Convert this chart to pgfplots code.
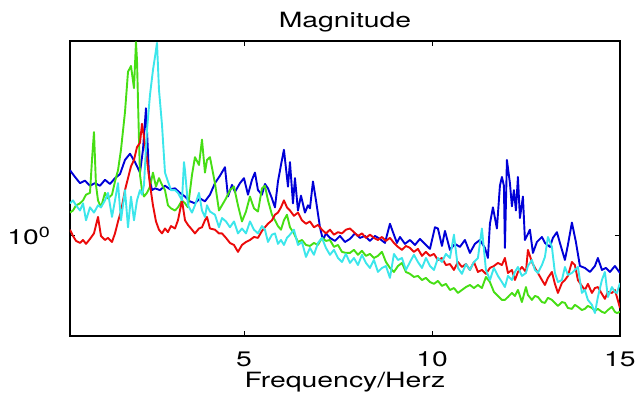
\documentclass[border=0pt]{standalone}
\usepackage{fontspec}
\setmainfont{TeX Gyre Heros}[FakeStretch=1.35]
\usepackage{pgfplots}
\pgfplotsset{compat=1.18}
\definecolor{mblue}{RGB}{0,0,215}
\definecolor{mred}{RGB}{235,10,10}
\definecolor{mgreen}{RGB}{70,222,20}
\definecolor{mcyan}{RGB}{60,230,235}
\begin{document}
\begin{tikzpicture}
\begin{axis}[
 scale only axis, width=275pt, height=147.5pt,
 xmin=0.37, xmax=15, ymode=log, ymin=0.458, ymax=4.58,
 xtick={5,10,15}, xticklabels={5,10,15},
 ytick={1}, yticklabels={10\textsuperscript{0}},
 minor tick num=0, yminorticks=false, xminorticks=false,
 tick align=inside, major tick length=2.5pt,
 axis line style={black, line width=0.6pt},
 every tick/.style={black, line width=0.5pt},
 font=\fontsize{10.5}{12}\selectfont,
 title={Magnitude}, title style={at={(0.5,1)}, anchor=base, yshift=0.5pt},
 xlabel={Frequency/Herz}, xlabel style={at={(0.5,0)}, anchor=base, yshift=-26pt},
 xticklabel style={yshift=-4.5pt},
 yticklabel style={xshift=-6pt},
 every axis plot/.append style={line width=0.95pt, line join=round},
]
% blue
\addplot[mblue] table {
0.370 1.67
0.503 1.585
0.636 1.51
0.769 1.54
0.902 1.48
1.035 1.51
1.168 1.48
1.301 1.55
1.434 1.50
1.567 1.57
1.700 1.62
1.833 1.81
1.966 1.90
2.099 1.78
2.232 1.64
2.311 1.96
2.391 2.71
2.471 1.61
2.551 1.43
2.631 1.45
2.764 1.43
2.897 1.48
3.030 1.44
3.163 1.45
3.296 1.40
3.429 1.36
3.562 1.31
3.694 1.29
3.827 1.34
3.960 1.31
4.093 1.38
4.226 1.51
4.359 1.60
4.492 1.71
4.572 1.36
4.679 1.49
4.758 1.41
4.891 1.51
4.998 1.57
5.104 1.38
5.211 1.55
5.290 1.64
5.370 1.43
5.476 1.38
5.556 1.50
5.636 1.45
5.742 1.34
5.822 1.25
5.902 1.53
5.982 1.74
6.061 1.96
6.168 1.47
6.221 1.78
6.301 1.29
6.354 1.57
6.434 1.22
6.514 1.37
6.620 1.20
6.700 1.27
6.753 1.24
6.833 1.53
6.913 1.32
7.019 1.07
7.099 0.969
7.179 1.02
7.285 0.985
7.418 0.962
7.551 1.00
7.684 0.954
7.817 0.977
7.950 1.02
8.083 0.985
8.216 1.00
8.349 0.962
8.482 1.00
8.615 0.977
8.748 0.947
8.881 1.10
8.961 1.03
9.067 0.947
9.147 0.992
9.280 0.940
9.413 0.969
9.546 0.932
9.679 0.977
9.812 0.940
9.945 0.904
10.078 1.07
10.157 1.06
10.264 0.925
10.344 1.04
10.477 0.897
10.609 0.940
10.742 0.918
10.875 0.969
11.008 0.876
11.141 0.940
11.274 0.969
11.407 0.911
11.487 0.842
11.540 1.10
11.620 1.25
11.726 1.06
11.806 1.48
11.859 1.585
11.912 1.48
11.939 0.911
11.992 1.81
12.072 1.51
12.125 1.26
12.178 1.43
12.232 1.22
12.285 1.585
12.338 1.15
12.418 1.36
12.471 0.969
12.604 1.05
12.684 0.876
12.790 0.954
12.923 0.992
13.003 0.947
13.136 0.918
13.216 0.985
13.322 1.03
13.402 0.947
13.535 0.829
13.614 0.932
13.721 1.11
13.827 0.954
13.934 0.791
14.067 0.779
14.200 0.755
14.333 0.791
14.412 0.842
14.519 0.767
14.626 0.779
14.732 0.755
14.865 0.791
15.0 0.749
};
% green
\addplot[mgreen] table {
0.370 1.20
0.450 1.22
0.530 1.27
0.636 1.29
0.716 1.32
0.796 1.38
0.902 1.40
0.955 1.81
1.008 2.25
1.061 1.49
1.115 1.32
1.194 1.25
1.301 1.40
1.381 1.34
1.487 1.38
1.567 1.53
1.647 1.67
1.726 1.96
1.833 2.63
1.913 3.60
1.992 3.77
2.072 3.17
2.125 4.54
2.152 3.95
2.205 2.12
2.232 1.61
2.285 1.43
2.338 1.36
2.418 1.40
2.498 1.47
2.577 1.64
2.657 1.47
2.737 1.57
2.817 1.49
2.897 1.43
2.976 1.27
3.056 1.24
3.163 1.22
3.242 1.25
3.349 1.32
3.429 1.29
3.508 1.25
3.615 1.61
3.694 1.85
3.801 1.74
3.881 2.12
3.960 1.64
4.014 1.81
4.093 1.85
4.226 1.51
4.333 1.22
4.413 1.27
4.519 1.34
4.625 1.43
4.732 1.47
4.838 1.27
4.945 1.12
5.051 1.21
5.157 1.36
5.264 1.24
5.370 1.21
5.476 1.45
5.556 1.48
5.636 1.32
5.742 1.18
5.822 1.13
5.902 1.08
5.982 1.05
6.061 1.13
6.141 1.18
6.221 1.07
6.327 1.02
6.434 0.954
6.540 0.969
6.647 0.932
6.753 0.925
6.859 0.947
6.966 0.932
7.072 0.985
7.179 0.962
7.285 0.969
7.391 0.918
7.498 0.932
7.604 0.883
7.710 0.876
7.817 0.876
7.923 0.897
8.030 0.863
8.136 0.890
8.242 0.856
8.349 0.869
8.455 0.842
8.561 0.856
8.668 0.883
8.774 0.816
8.881 0.779
8.987 0.755
9.094 0.791
9.200 0.810
9.306 0.755
9.413 0.744
9.519 0.726
9.625 0.732
9.732 0.709
9.838 0.721
9.945 0.698
10.051 0.688
10.157 0.704
10.264 0.677
10.370 0.688
10.477 0.656
10.583 0.666
10.689 0.641
10.796 0.656
10.902 0.671
11.008 0.682
11.115 0.666
11.221 0.682
11.327 0.666
11.434 0.726
11.540 0.698
11.646 0.646
11.753 0.626
11.859 0.607
11.939 0.607
12.019 0.621
12.125 0.641
12.205 0.626
12.285 0.656
12.391 0.597
12.498 0.671
12.551 0.631
12.657 0.607
12.737 0.626
12.817 0.621
12.923 0.597
13.003 0.593
13.083 0.617
13.189 0.607
13.269 0.593
13.349 0.579
13.455 0.597
13.535 0.593
13.614 0.570
13.721 0.566
13.800 0.584
13.880 0.575
13.986 0.561
14.066 0.566
14.146 0.579
14.253 0.570
14.333 0.557
14.412 0.566
14.519 0.553
14.598 0.548
14.678 0.561
14.785 0.575
14.864 0.553
14.918 0.548
15.0 0.553
};
% red
\addplot[mred] table {
0.370 1.05
0.450 1.00
0.530 0.962
0.636 0.947
0.716 0.969
0.796 0.940
0.902 0.977
1.008 1.02
1.115 1.16
1.194 1.00
1.301 0.969
1.381 0.985
1.487 0.954
1.567 1.02
1.647 1.12
1.726 1.21
1.833 1.43
1.913 1.57
1.992 1.72
2.072 1.81
2.152 2.00
2.232 2.07
2.285 2.40
2.338 2.17
2.418 1.81
2.498 1.49
2.577 1.27
2.657 1.12
2.737 1.05
2.817 1.02
2.897 1.06
2.976 1.03
3.056 1.08
3.163 1.06
3.242 1.13
3.349 1.32
3.429 1.13
3.508 1.09
3.615 1.05
3.694 1.02
3.801 1.06
3.881 1.07
3.960 1.13
4.014 1.16
4.093 1.06
4.226 1.05
4.333 1.02
4.413 1.02
4.519 0.985
4.625 0.947
4.732 0.932
4.838 0.883
4.945 0.932
5.051 0.954
5.157 0.969
5.264 0.992
5.370 0.985
5.476 1.04
5.556 1.07
5.636 1.10
5.742 1.13
5.822 1.18
5.902 1.20
5.982 1.25
6.061 1.32
6.141 1.25
6.221 1.22
6.327 1.17
6.434 1.20
6.540 1.13
6.647 1.10
6.753 1.12
6.859 1.07
6.966 1.09
7.072 1.05
7.179 1.02
7.285 1.05
7.391 1.01
7.498 1.03
7.604 1.02
7.710 1.05
7.817 1.06
7.923 1.03
8.030 1.00
8.136 1.02
8.242 0.985
8.349 1.01
8.455 0.985
8.561 0.969
8.668 0.992
8.774 0.962
8.881 0.985
8.987 0.947
9.094 0.918
9.200 0.897
9.306 0.925
9.413 0.911
9.519 0.883
9.625 0.904
9.732 0.856
9.838 0.883
9.945 0.856
10.051 0.869
10.157 0.829
10.264 0.842
10.370 0.797
10.477 0.803
10.583 0.767
10.689 0.816
10.796 0.785
10.902 0.803
11.008 0.767
11.115 0.816
11.221 0.755
11.327 0.767
11.434 0.744
11.540 0.779
11.646 0.791
11.753 0.810
11.859 0.797
11.939 0.842
12.019 0.749
12.125 0.767
12.205 0.709
12.285 0.755
12.391 0.785
12.498 0.755
12.551 0.897
12.657 0.816
12.737 0.779
12.817 0.749
12.923 0.709
13.003 0.682
13.083 0.721
13.189 0.755
13.269 0.688
13.349 0.641
13.455 0.693
13.535 0.709
13.614 0.732
13.721 0.816
13.800 0.797
13.880 0.709
13.986 0.677
14.066 0.656
14.146 0.688
14.253 0.641
14.333 0.666
14.412 0.671
14.519 0.636
14.598 0.612
14.678 0.646
14.785 0.641
14.864 0.656
14.918 0.621
15.0 0.570
};
% cyan
\addplot[mcyan] table {
0.370 1.29
0.450 1.32
0.530 1.27
0.636 1.22
0.716 1.29
0.796 1.13
0.902 1.25
1.008 1.20
1.115 1.27
1.194 1.25
1.301 1.32
1.381 1.40
1.487 1.16
1.567 1.32
1.647 1.51
1.726 1.13
1.833 1.43
1.913 1.07
1.992 1.36
2.072 1.13
2.152 1.32
2.232 1.43
2.285 1.38
2.338 1.49
2.418 2.29
2.498 3.01
2.577 3.65
2.631 4.05
2.684 4.51
2.737 3.13
2.817 2.38
2.897 1.64
2.976 1.53
3.056 1.43
3.163 1.43
3.242 1.40
3.349 1.32
3.402 1.78
3.429 1.67
3.508 1.27
3.615 1.20
3.694 1.27
3.801 1.40
3.881 1.22
3.960 1.16
4.014 1.27
4.093 1.21
4.226 1.18
4.333 1.07
4.413 1.15
4.519 1.12
4.625 1.07
4.732 1.12
4.838 1.02
4.945 1.06
5.051 1.02
5.157 1.12
5.264 1.05
5.370 1.02
5.476 1.08
5.556 1.05
5.636 0.954
5.742 1.01
5.822 1.02
5.902 0.940
5.982 0.969
6.061 0.932
6.141 0.985
6.221 1.01
6.327 1.05
6.434 0.932
6.540 0.954
6.647 0.849
6.753 0.911
6.859 0.863
6.966 0.947
7.072 0.985
7.179 0.911
7.285 0.863
7.391 0.897
7.498 0.842
7.604 0.816
7.710 0.869
7.817 0.810
7.923 0.842
8.030 0.797
8.136 0.863
8.242 0.810
8.349 0.779
8.455 0.829
8.561 0.755
8.668 0.779
8.774 0.791
8.881 0.721
8.987 0.869
9.094 0.829
9.200 0.842
9.306 0.767
9.413 0.816
9.519 0.863
9.625 0.816
9.732 0.779
9.838 0.842
9.945 0.791
10.051 0.767
10.157 0.842
10.264 0.816
10.370 0.869
10.477 0.842
10.583 1.01
10.689 0.779
10.796 0.744
10.902 0.803
11.008 0.767
11.115 0.816
11.221 0.842
11.327 1.06
11.434 0.767
11.540 0.709
11.646 0.779
11.753 0.732
11.859 0.698
11.939 0.671
12.019 0.732
12.125 0.709
12.205 0.755
12.285 0.785
12.391 0.732
12.498 0.749
12.551 0.791
12.657 0.829
12.737 0.767
12.817 0.749
12.923 0.797
13.003 0.849
13.083 0.992
13.189 0.918
13.269 0.749
13.349 0.698
13.455 0.709
13.535 0.785
13.614 0.738
13.721 0.749
13.800 0.767
13.880 0.785
13.986 0.641
14.066 0.656
14.146 0.607
14.253 0.584
14.333 0.548
14.412 0.621
14.519 0.709
14.598 0.755
14.678 0.621
14.785 0.671
14.864 0.646
14.918 0.641
15.0 0.693
};
\end{axis}
\pgfresetboundingbox
\path[use as bounding box] ([shift={(-35pt,-29pt)}]current axis.south west) rectangle ([shift={(9pt,20.5pt)}]current axis.north east);
\end{tikzpicture}
\end{document}
